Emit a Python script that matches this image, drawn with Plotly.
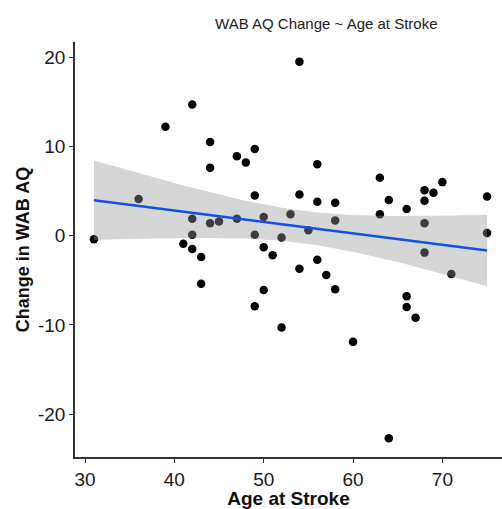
import numpy as np
import plotly.graph_objects as go

age = [31, 36, 39, 41, 42, 42, 42, 42, 43, 43, 44, 44, 44, 45, 47, 47, 48, 49, 49, 49, 49,
       50, 50, 50, 51, 52, 52, 53, 54, 54, 54, 55, 56, 56, 56, 57, 58, 58, 58, 60,
       63, 63, 64, 64, 66, 66, 66, 67, 68, 68, 68, 68, 69, 70, 71, 75, 75]
change = [-0.4, 4.1, 12.2, -0.9, 14.7, 1.9, 0.1, -1.5, -2.4, -5.4, 10.5, 7.6, 1.4, 1.6, 8.9, 1.9,
          8.2, 9.7, 4.5, 0.1, -7.9, 2.1, -1.3, -6.1, -2.2, -0.2, -10.3, 2.4, 19.5, 4.6, -3.7,
          0.6, 8.0, 3.8, -2.7, -4.4, 3.7, 1.7, -6.0, -11.9, 6.5, 2.4, 4.0, -22.7, 3.0, -6.8,
          -8.0, -9.2, 5.1, 3.9, 1.4, -1.9, 4.8, 6.0, -4.3, 4.4, 0.3]
x_ticks = [30, 40, 50, 60, 70]
y_ticks = [-20, -10, 0, 10, 20]
y_tick_labels = ["-20", "-10", "0", "10", "20"]

x = np.array(age, float)
y = np.array(change, float)
n = len(x)
b1, b0 = np.polyfit(x, y, 1)
resid = y - (b0 + b1 * x)
s = np.sqrt(np.sum(resid ** 2) / (n - 2))
xg = np.linspace(x.min(), x.max(), 80)
yg = b0 + b1 * xg
se = s * np.sqrt(1 / n + (xg - x.mean()) ** 2 / np.sum((x - x.mean()) ** 2))
t = 2.004
up = yg + t * se
lo = yg - t * se

fig = go.Figure()
fig.add_trace(go.Scatter(x=age, y=change, mode="markers",
                         marker=dict(color="black", size=8.5, line=dict(width=0)),
                         showlegend=False))
fig.add_trace(go.Scatter(x=np.concatenate([xg, xg[::-1]]), y=np.concatenate([up, lo[::-1]]),
                         mode="lines", fill="toself", fillcolor="rgba(153,153,153,0.4)",
                         line=dict(width=0), showlegend=False, hoverinfo="skip"))
fig.add_trace(go.Scatter(x=xg, y=yg, mode="lines", line=dict(color="#1152E4", width=2.6),
                         showlegend=False))

axis_common = dict(showgrid=False, zeroline=False, showline=True, linecolor="#333333",
                   linewidth=1.6, ticks="outside", ticklen=4, tickcolor="#333333", tickwidth=1.2,
                   tickfont=dict(family="Liberation Sans, Arial", size=19, color="#1a1a1a"))

fig.update_layout(
    width=502, height=509, plot_bgcolor="white", paper_bgcolor="white",
    margin=dict(l=75, r=0, t=42, b=52),
    title=dict(text="WAB AQ Change ~ Age at Stroke", x=0.65, xanchor="center", y=0.953, yanchor="middle",
               font=dict(family="Liberation Sans, Arial", size=15, color="#222222")),
    xaxis=dict(range=[28.88, 76.67], tickvals=x_ticks, **axis_common,
               title=dict(text="<b>Age at Stroke</b>", standoff=3,
                          font=dict(family="Liberation Sans, Arial", size=19, color="#111111"))),
    yaxis=dict(range=[-24.8, 21.7], tickvals=y_ticks, ticktext=y_tick_labels, **axis_common,
               title=dict(text="<b>Change in WAB AQ</b>", standoff=4,
                          font=dict(family="Liberation Sans, Arial", size=18, color="#111111"))),
)
fig.write_html("out.html")
